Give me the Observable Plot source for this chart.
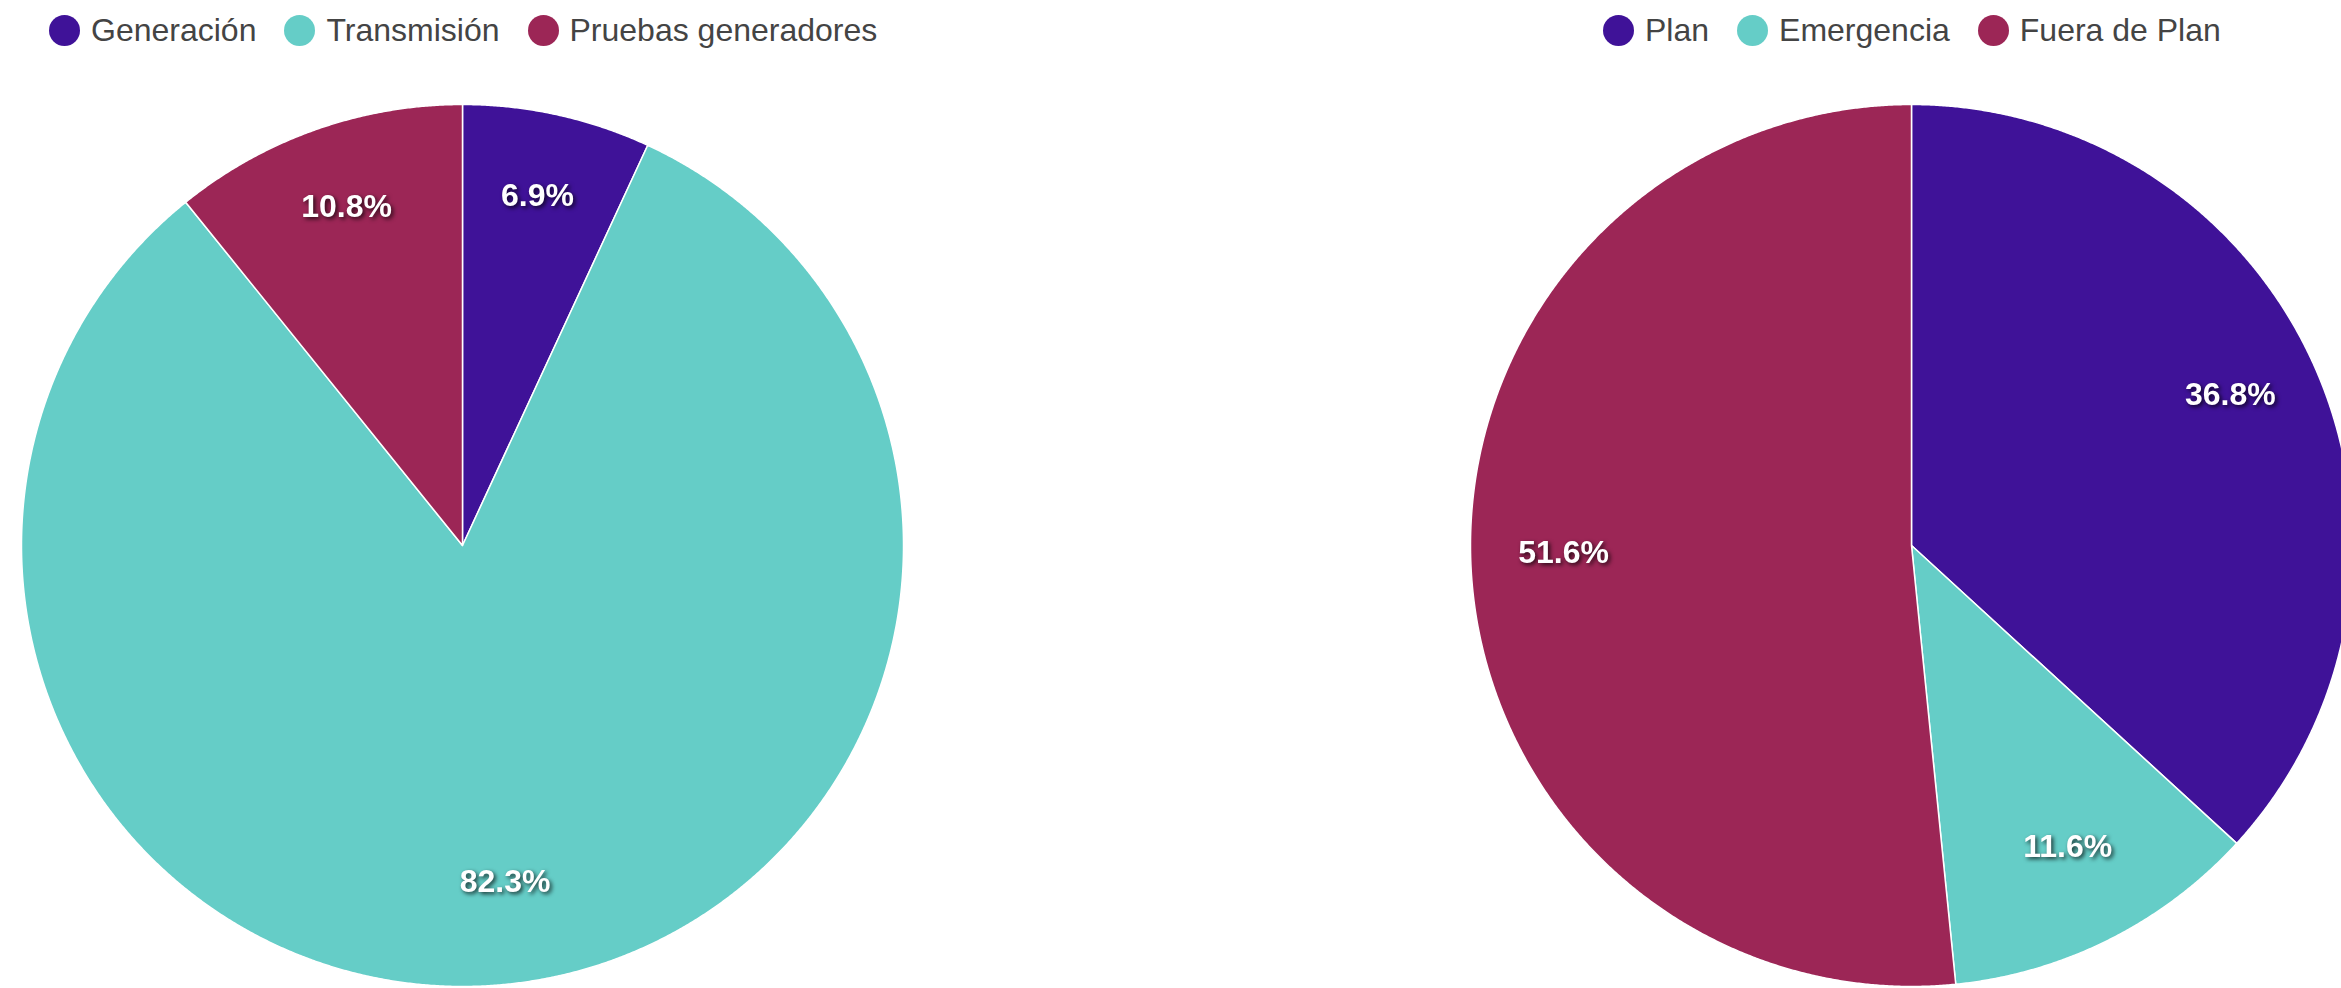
<!DOCTYPE html>
<html>
<head>
<meta charset="utf-8">
<script src="https://cdn.jsdelivr.net/npm/d3@7"></script>
<script src="https://cdn.jsdelivr.net/npm/@observablehq/plot@0.6"></script>
<style>
  html, body { margin: 0; padding: 0; width: 2341px; height: 988px; overflow: hidden; background: #fff; }
  .bloque { position: absolute; top: 0; height: 988px; }
  .leyenda {
    position: absolute; top: 0; height: 60px;
    display: flex; align-items: center; white-space: nowrap;
    font-family: "Liberation Sans", Arial, sans-serif; font-size: 32px; color: #444;
  }
  .leyenda .item { display: flex; align-items: center; margin-right: 28px; }
  .leyenda .punto { width: 31px; height: 31px; border-radius: 50%; margin-right: 11px; }
  .grafico { position: absolute; top: 60px; left: 0; }
  .grafico svg { max-width: none; display: block; }
  .grafico g[aria-label="text"] { filter: drop-shadow(2px 2px 2px rgba(0, 0, 0, 0.75)); }
</style>
</head>
<body>
<div id="tipos" class="bloque" style="left:0; width:903px"></div>
<div id="clases" class="bloque" style="left:1470px; width:882px"></div>
<script>
// Distribución por tipo de mantenimiento
const tiposCategorias = ["Generación", "Transmisión", "Pruebas generadores"];
const tiposValores = [6.9, 82.3, 10.8];

// Distribución por clase de mantenimiento
const clasesCategorias = ["Plan", "Emergencia", "Fuera de Plan"];
const clasesValores = [36.8, 11.6, 51.6];

const colores = ["#3f1298", "#65cdc7", "#9c2656"];

// Convierte categorías y valores en polígonos de porciones (radio 1) y posiciones de etiquetas
function porciones(categorias, valores) {
  const filas = categorias.map((c, i) => ({categoria: c, valor: valores[i]}));
  const arcos = d3.pie().sort(null).value(d => d.valor)(filas);
  const puntos = [];
  for (const a of arcos) {
    const c = a.data.categoria;
    puntos.push({categoria: c, x: 0, y: 0});
    const n = Math.max(2, Math.ceil((a.endAngle - a.startAngle) / 0.004));
    for (let k = 0; k <= n; k++) {
      const t = a.startAngle + (a.endAngle - a.startAngle) * k / n;
      puntos.push({categoria: c, x: Math.sin(t), y: Math.cos(t)});
    }
  }
  const etiquetas = arcos.map(a => {
    const m = (a.startAngle + a.endAngle) / 2;
    return {x: 0.79 * Math.sin(m), y: 0.79 * Math.cos(m), texto: a.data.valor.toFixed(1) + "%"};
  });
  return {puntos, etiquetas};
}

function torta(contenedor, categorias, valores, {width, marginLeft, leyendaIzq}) {
  const {puntos, etiquetas} = porciones(categorias, valores);

  const leyenda = document.createElement("div");
  leyenda.className = "leyenda";
  leyenda.style.left = leyendaIzq + "px";
  categorias.forEach((c, i) => {
    const item = document.createElement("div");
    item.className = "item";
    const punto = document.createElement("span");
    punto.className = "punto";
    punto.style.background = colores[i];
    const texto = document.createElement("span");
    texto.textContent = c;
    item.append(punto, texto);
    leyenda.append(item);
  });
  contenedor.append(leyenda);

  const grafico = Plot.plot({
    width,
    height: 928,
    marginTop: 44,
    marginBottom: 2,
    marginLeft,
    marginRight: 0,
    x: {domain: [-1, 1], axis: null},
    y: {domain: [-1, 1], axis: null},
    color: {domain: categorias, range: colores},
    marks: [
      Plot.line(puntos, {
        x: "x", y: "y", z: "categoria", fill: "categoria",
        stroke: "white", strokeWidth: 1.5, curve: "linear-closed"
      }),
      Plot.text(etiquetas, {
        x: "x", y: "y", text: "texto", dy: -10,
        fill: "white", fontSize: 32, fontWeight: "bold",
        fontFamily: "Liberation Sans, Arial, sans-serif"
      })
    ]
  });
  const envoltura = document.createElement("div");
  envoltura.className = "grafico";
  envoltura.append(grafico);
  contenedor.append(envoltura);
}

torta(document.getElementById("tipos"), tiposCategorias, tiposValores,
  {width: 903, marginLeft: 21, leyendaIzq: 49});
torta(document.getElementById("clases"), clasesCategorias, clasesValores,
  {width: 882, marginLeft: 0, leyendaIzq: 133});
</script>
</body>
</html>
